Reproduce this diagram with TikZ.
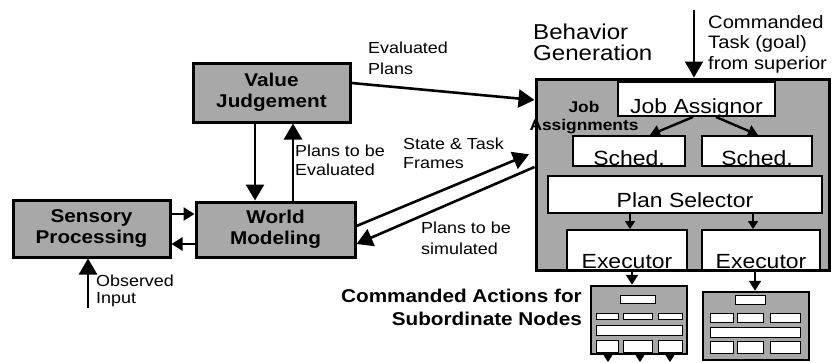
\documentclass[tikz,border=0pt]{standalone}
\usepackage{fontspec}
\setmainfont[FakeStretch=1.12]{Liberation Sans}
\usetikzlibrary{arrows.meta}

\newcommand\fsz[2]{\fontsize{#1}{#2}\selectfont}
\newcommand\stackl[1]{\vtop{\halign{##\hfil\cr#1\cr}}}
\newcommand\stackr[1]{\vtop{\halign{\hfil##\cr#1\cr}}}
\newcommand\stackc[1]{\vtop{\halign{\hfil##\hfil\cr#1\cr}}}

\tikzset{
  stipple/.style={fill=black!34},
  gbox/.style={draw, line width=3pt, stipple, inner sep=0pt, align=center,
    font=\fsz{18.5}{21}\bfseries},
  wbox/.style={draw, line width=2pt, fill=white, inner sep=0pt, font=\fsz{20.5}{22}},
  minibox/.style={draw, line width=2.5pt, stipple, inner sep=0pt},
  minirect/.style={fill=white, draw=black, line width=0.8pt},
  lbl/.style={inner sep=0pt, anchor=base west, font=\fsz{16}{19}},
  arrbig/.style={line width=2.6pt, -{Triangle[length=16pt,width=18pt]}},
  arrmid/.style={line width=2.8pt, -{Triangle[length=11pt,width=13pt]}},
  arrsm/.style={line width=2.4pt, -{Triangle[length=10pt,width=12pt]}},
  arrtiny/.style={line width=1.6pt, -{Triangle[length=8pt,width=10pt]}},
}

\begin{document}
\begin{tikzpicture}[x=1pt,y=-1pt]
\useasboundingbox (0,0) rectangle (832,362);

% ---- left-hand modules ----
\node[gbox, minimum width=157pt, minimum height=57pt] (sp) at (91.5,228.5) {Sensory\\Processing};
\node[gbox, minimum width=159pt, minimum height=55pt] (wm) at (275.5,229.5) {World\\Modeling};
\node[gbox, minimum width=157pt, minimum height=59pt] (vj) at (271.5,92.5) {Value\\Judgement};

% ---- behavior generation module ----
\node[draw, line width=3pt, stipple, inner sep=0pt, minimum width=293pt, minimum height=191pt] (bg) at (682.5,174.5) {};
\node[wbox, minimum width=157pt, text height=31pt, text depth=3pt] (ja) at (696.5,99) {Job Assignor};
\node[wbox, minimum width=112pt, text height=29pt, text depth=1pt] (s1) at (629,151) {Sched.};
\node[wbox, minimum width=110pt, text height=29pt, text depth=1pt] (s2) at (757,151) {Sched.};
\node[wbox, minimum width=274pt, text height=31pt, text depth=6pt] (ps) at (685,194.5) {Plan Selector};
\node[wbox, minimum width=120pt, text height=38pt, text depth=2pt] (ex1) at (627,250) {Executor};
\node[wbox, minimum width=118pt, text height=38pt, text depth=2pt] (ex2) at (761,250) {Executor};

\node[inner sep=0pt, anchor=base, font=\fsz{15.5}{18}\bfseries] (jas) at (584,112) {\stackc{Job\cr Assignments}};

% ---- subordinate nodes ----
\node[minibox, minimum width=96pt, minimum height=68pt] (m1) at (639,320) {};
\node[minibox, minimum width=106pt, minimum height=68pt] (m2) at (756,326) {};
\path[minirect] (620,295) rectangle (655,303)
  (596,313) rectangle (618,319) (623,313) rectangle (652,319) (658,313) rectangle (682,319)
  (596,325) rectangle (682,335)
  (596,340) rectangle (618,352) (623,340) rectangle (652,352) (658,340) rectangle (682,352);
\path[minirect] (735,295) rectangle (765,304)
  (710,313) rectangle (733,322) (737,313) rectangle (763,322) (770,313) rectangle (800,322)
  (710,327) rectangle (800,337)
  (710,341) rectangle (733,353) (737,341) rectangle (763,353) (770,341) rectangle (800,353);

% ---- text labels ----
\node[lbl] (tev) at (368,53) {\fsz{16}{21}\stackl{Evaluated\cr Plans}};
\node[lbl] (tpe) at (295,156) {\stackl{Plans to be\cr Evaluated}};
\node[lbl] (tst) at (403,149) {\stackl{State \& Task\cr Frames}};
\node[lbl] (tps) at (421,233) {\fsz{16}{21}\stackl{Plans to be\cr simulated}};
\node[lbl] (tob) at (96,286) {\fsz{16}{17}\stackl{Observed\cr Input}};
\node[lbl, font=\fsz{21.5}{21}] (tbg) at (533,39) {\stackl{Behavior\cr Generation}};
\node[lbl, font=\fsz{18}{20.5}] (tct) at (708,28) {\stackl{Commanded\cr Task (goal)\cr from superior}};
\node[inner sep=0pt, anchor=base east, font=\fsz{18.5}{23}\bfseries] (tca) at (582,302)
  {\stackr{Commanded Actions for\cr Subordinate Nodes}};

% ---- reference coordinates for connectors ----
\coordinate (xdn) at (255,0);
\coordinate (xup) at (293,0);
\coordinate (ya) at (0,214);
\coordinate (yb) at (0,244);
\coordinate (obs) at (88,308);
\coordinate (ye1) at (0,83);
\coordinate (ye2) at (0,100);
\coordinate (ys1) at (0,226);
\coordinate (ys2) at (0,152);
\coordinate (ys3) at (0,167);
\coordinate (ys4) at (0,244);
\coordinate (ct) at (694,10);
\coordinate (j1) at (693,0);
\coordinate (j2) at (716,0);
\coordinate (s1t) at (650,0);
\coordinate (s2t) at (758,0);
\coordinate (p1) at (630,0);
\coordinate (p2) at (753,0);
\coordinate (e1) at (632,0);
\coordinate (e2) at (755,0);
\coordinate (b1) at (608,362);
\coordinate (b2) at (640,362);
\coordinate (b3) at (670,362);

% ---- connectors ----
\draw[arrbig] (vj.south -| xdn) -- (wm.north -| xdn);
\draw[arrbig] (wm.north -| xup) -- (vj.south -| xup);
\draw[arrmid] (sp.east |- ya) -- (wm.west |- ya);
\draw[arrmid] (wm.west |- yb) -- (sp.east |- yb);
\draw[arrbig] (obs) -- (sp.south -| obs);
\draw[arrbig] (vj.east |- ye1) -- (bg.west |- ye2);
\draw[arrbig, shorten >=6pt] (wm.east |- ys1) -- (bg.west |- ys2);
\draw[arrbig] (bg.west |- ys3) -- (wm.east |- ys4);
\draw[arrbig, line width=2pt] (ct) -- (bg.north -| ct);
\draw[arrsm] (ja.south -| j1) -- (s1.north -| s1t);
\draw[arrsm] (ja.south -| j2) -- (s2.north -| s2t);
\draw[arrtiny] (ps.south -| p1) -- (ex1.north -| p1);
\draw[arrtiny] (ps.south -| p2) -- (ex2.north -| p2);
\draw[arrsm, line width=2pt] (ex1.south -| e1) -- (m1.north -| e1);
\draw[arrsm, line width=2pt] (ex2.south -| e2) -- (m2.north -| e2);
\draw[arrtiny] (m1.south -| b1) -- (b1);
\draw[arrtiny] (m1.south -| b2) -- (b2);
\draw[arrtiny] (m1.south -| b3) -- (b3);
\end{tikzpicture}
\end{document}
